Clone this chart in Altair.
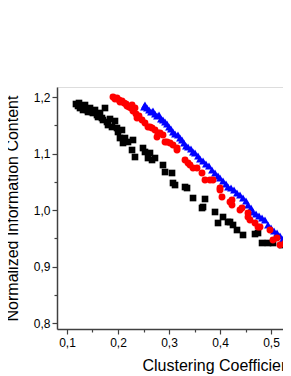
import altair as alt
import pandas as pd

# Black squares
bx = [0.1176,0.1216,0.1255,0.1235,0.1314,0.1353,0.1392,0.1412,0.1451,0.1490,0.1510,0.1549,0.1588,0.1608,0.1647,0.1686,0.1706,0.1745,0.1784,0.1804,0.1843,0.1882,0.1941,0.1980,0.2000,0.2039,0.2078,0.2098,0.2137,0.2196,0.2275,0.2294,0.2333,0.2490,0.2529,0.2588,0.2627,0.2667,0.2725,0.2882,0.2922,0.3059,0.3078,0.3118,0.3314,0.3353,0.3471,0.3647,0.3667,0.3706,0.3902,0.3961,0.4059,0.4157,0.4196,0.4255,0.4333,0.4451,0.4686,0.4745,0.4824,0.4941,0.5039,0.5216,0.5333]
by = [1.1876,1.1841,1.1805,1.1894,1.1770,1.1858,1.1770,1.1735,1.1805,1.1735,1.1717,1.1770,1.1681,1.1646,1.1717,1.1628,1.1593,1.1805,1.1558,1.1504,1.1611,1.1469,1.1575,1.1451,1.1381,1.1274,1.1416,1.1186,1.1274,1.1204,1.1062,1.1239,1.0938,1.1097,1.1027,1.0920,1.1009,1.0885,1.0920,1.0796,1.0672,1.0655,1.0478,1.0442,1.0407,1.0389,1.0212,1.0035,1.0053,1.0195,0.9965,0.9770,0.9876,0.9788,0.9788,0.9735,0.9646,0.9558,0.9575,0.9593,0.9416,0.9416,0.9416,0.9380,0.9345]

# Red circles
rx = [0.1902,0.1941,0.1980,0.2020,0.2039,0.2078,0.2118,0.2157,0.2176,0.2216,0.2255,0.2275,0.2294,0.2333,0.2353,0.2373,0.2412,0.2471,0.2529,0.2588,0.2627,0.2667,0.2725,0.2765,0.2784,0.2824,0.2882,0.2922,0.2961,0.3020,0.3078,0.3157,0.3157,0.3314,0.3373,0.3412,0.3471,0.3549,0.3647,0.3706,0.3804,0.3863,0.4000,0.4000,0.4039,0.4196,0.4235,0.4235,0.4392,0.4431,0.4549,0.4549,0.4588,0.4686,0.4745,0.4784,0.4980,0.5039,0.5118,0.5176,0.5275]
ry = [1.2000,1.1965,1.1982,1.1947,1.1912,1.1929,1.1894,1.1876,1.1841,1.1823,1.1805,1.1858,1.1752,1.1805,1.1699,1.1628,1.1664,1.1593,1.1540,1.1469,1.1469,1.1451,1.1416,1.1292,1.1363,1.1363,1.1327,1.1204,1.1204,1.1186,1.1150,1.1097,1.1062,1.0885,1.0832,1.0796,1.0743,1.0743,1.0655,1.0531,1.0531,1.0531,1.0389,1.0354,1.0230,1.0142,1.0177,1.0088,1.0000,1.0035,0.9947,0.9876,0.9823,0.9770,0.9699,0.9699,0.9646,0.9469,0.9504,0.9380,0.9416]

# Blue triangles
tx = [0.2510,0.2529,0.2569,0.2608,0.2647,0.2686,0.2725,0.2765,0.2804,0.2843,0.2882,0.2922,0.2961,0.3000,0.3039,0.3078,0.3118,0.3176,0.3216,0.3255,0.3294,0.3333,0.3373,0.3431,0.3471,0.3510,0.3569,0.3608,0.3667,0.3725,0.3784,0.3843,0.3902,0.3961,0.4000,0.4059,0.4118,0.4157,0.4216,0.4275,0.4333,0.4392,0.4451,0.4510,0.4549,0.4608,0.4647,0.4706,0.4765,0.4824,0.4882,0.4941,0.5000,0.5059,0.5118,0.5176,0.5235,0.5294,0.5353]
ty = [1.1823,1.1858,1.1805,1.1770,1.1735,1.1752,1.1699,1.1664,1.1681,1.1611,1.1593,1.1558,1.1522,1.1469,1.1434,1.1381,1.1345,1.1327,1.1274,1.1239,1.1186,1.1133,1.1115,1.1080,1.1027,1.1009,1.0956,1.0903,1.0867,1.0814,1.0779,1.0708,1.0655,1.0602,1.0566,1.0513,1.0460,1.0407,1.0389,1.0354,1.0301,1.0265,1.0212,1.0159,1.0088,1.0035,0.9965,0.9929,0.9894,0.9858,0.9823,0.9735,0.9681,0.9628,0.9593,0.9540,0.9487,0.9469,0.9398]

x_ticks = [0.1, 0.15, 0.2, 0.25, 0.3, 0.35, 0.4, 0.45, 0.5]
y_ticks = [0.8, 0.85, 0.9, 0.95, 1.0, 1.05, 1.1, 1.15, 1.2]

minor_test = "abs(datum.value*10 - round(datum.value*10)) > 0.01"
label_expr = f"{minor_test} ? '' : replace(format(datum.value, '.1f'), '.', ',')"

FONT = "Liberation Sans"
AX = "#404040"

x_enc = alt.X("x:Q", scale=alt.Scale(domain=[0.0804, 0.5235], nice=False, zero=False),
              axis=alt.Axis(values=x_ticks, labelExpr=label_expr, grid=False,
                            title="Clustering Coefficient", titleFont=FONT, titleFontSize=16,
                            titleFontWeight="normal", titleColor="black",
                            titleX=85, titleY=41, titleAlign="left", titleBaseline="alphabetic",
                            titleAnchor="start",
                            labelFont=FONT, labelFontSize=12, labelColor="black", labelPadding=3,
                            domainColor=AX, domainWidth=1.5, tickColor=AX, tickWidth=1.2,
                            tickSize={"condition": {"test": minor_test, "value": 3}, "value": 5}))
y_enc = alt.Y("y:Q", scale=alt.Scale(domain=[0.7894, 1.2177], nice=False, zero=False),
              axis=alt.Axis(values=y_ticks, labelExpr=label_expr, grid=False,
                            title="Normalized Information Content", titleFont=FONT, titleFontSize=16,
                            titleFontWeight="normal", titleColor="black",
                            titleX=-40, titleY=121, titleAlign="center", titleBaseline="alphabetic",
                            titleAngle=270,
                            labelFont=FONT, labelFontSize=12, labelColor="black", labelPadding=2,
                            domainColor=AX, domainWidth=1.5, tickColor=AX, tickWidth=1.2,
                            tickSize={"condition": {"test": minor_test, "value": 3}, "value": 5}))

black = alt.Chart(pd.DataFrame({"x": bx, "y": by})).mark_point(
    shape="square", filled=True, size=44, color="black", opacity=1, clip=True
).encode(x=x_enc, y=y_enc)
blue = alt.Chart(pd.DataFrame({"x": tx, "y": ty})).mark_point(
    shape="triangle-up", filled=True, size=62, color="#0000ff", opacity=1, clip=True
).encode(x=x_enc, y=y_enc)
red = alt.Chart(pd.DataFrame({"x": rx, "y": ry})).mark_point(
    shape="circle", filled=True, size=48, color="#ff0000", opacity=1, clip=True
).encode(x=x_enc, y=y_enc)

chart = alt.layer(black, blue, red).properties(
    width=226, height=242,
    autosize=alt.AutoSizeParams(type="none"),
    padding={"left": 49, "top": 79, "right": 0, "bottom": 47},
).configure_view(stroke=None).configure(background="white")

chart.save("out.html", embed_options={"renderer": "svg", "actions": False})
